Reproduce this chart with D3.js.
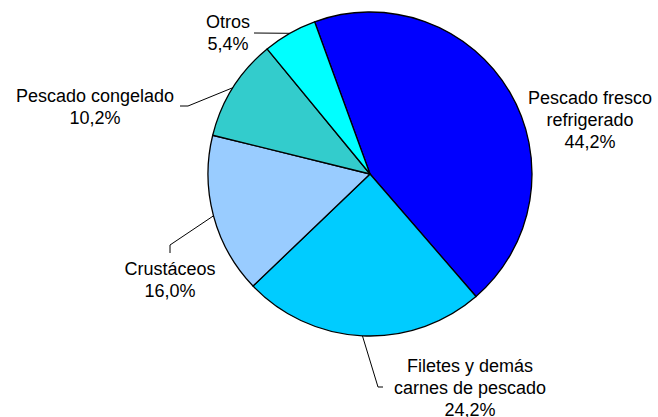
<!DOCTYPE html>
<html>
<head>
<meta charset="utf-8">
<script src="https://cdn.jsdelivr.net/npm/d3@7"></script>
<style>
  body { margin: 0; background: #fff; }
  text { font-family: "Liberation Sans", Arial, sans-serif; font-size: 18px; fill: #000; }
</style>
</head>
<body>
<div id="chart"></div>
<script>
// data
const categories = ['Pescado fresco refrigerado', 'Filetes y demás carnes de pescado', 'Crustáceos', 'Pescado congelado', 'Otros'];
const values = [44.2, 24.2, 16.0, 10.2, 5.4];
const colors = ['#0000FF', '#00CCFF', '#99CCFF', '#33CCCC', '#00FFFF'];
const labelLines = [
  ['Pescado fresco', 'refrigerado'],
  ['Filetes y demás', 'carnes de pescado'],
  ['Crustáceos'],
  ['Pescado congelado'],
  ['Otros']
];

const width = 658, height = 417;
const cx = 370, cy = 174, radius = 162;
const lineH = 22;

// label layout: text anchor x, first baseline y, leader elbow + end (null = no leader)
const labelLayout = [
  {x: 590, y: 104, leader: null},
  {x: 470, y: 372, leader: [[378, 387], [383, 387]]},
  {x: 170, y: 275, leader: [[170, 245], [170, 253]]},
  {x: 95, y: 102, leader: [[188, 106], [180, 106]]},
  {x: 228, y: 28, leader: [[254, 33], [254, 33]]}
];

const svg = d3.select('#chart').append('svg')
  .attr('width', width)
  .attr('height', height);

const pie = d3.pie()
  .sort(null)
  .value(d => d)
  .startAngle(-20 * Math.PI / 180)
  .endAngle(340 * Math.PI / 180);

const arcs = pie(values);
const arc = d3.arc().innerRadius(0).outerRadius(radius);

const g = svg.append('g').attr('transform', `translate(${cx},${cy})`);

g.selectAll('path.slice')
  .data(arcs)
  .enter()
  .append('path')
  .attr('class', 'slice')
  .attr('d', arc)
  .attr('fill', (d, i) => colors[i])
  .attr('stroke', '#000')
  .attr('stroke-width', 1.3)
  .attr('stroke-linejoin', 'round');

// leader lines from mid arc point
const fmt = v => d3.format('.1f')(v).replace('.', ',') + '%';

arcs.forEach((d, i) => {
  const lay = labelLayout[i];
  if (lay.leader) {
    const mid = (d.startAngle + d.endAngle) / 2;
    const p0 = [cx + radius * Math.sin(mid), cy - radius * Math.cos(mid)];
    const pts = [p0].concat(lay.leader);
    svg.append('polyline')
      .attr('points', pts.map(p => p.join(',')).join(' '))
      .attr('fill', 'none')
      .attr('stroke', '#000')
      .attr('stroke-width', 1);
  }
  const lines = labelLines[i].concat([fmt(values[i])]);
  const t = svg.append('text')
    .attr('text-anchor', 'middle');
  lines.forEach((ln, j) => {
    t.append('tspan')
      .attr('x', lay.x)
      .attr('y', lay.y + j * lineH)
      .text(ln);
  });
});
</script>
</body>
</html>
